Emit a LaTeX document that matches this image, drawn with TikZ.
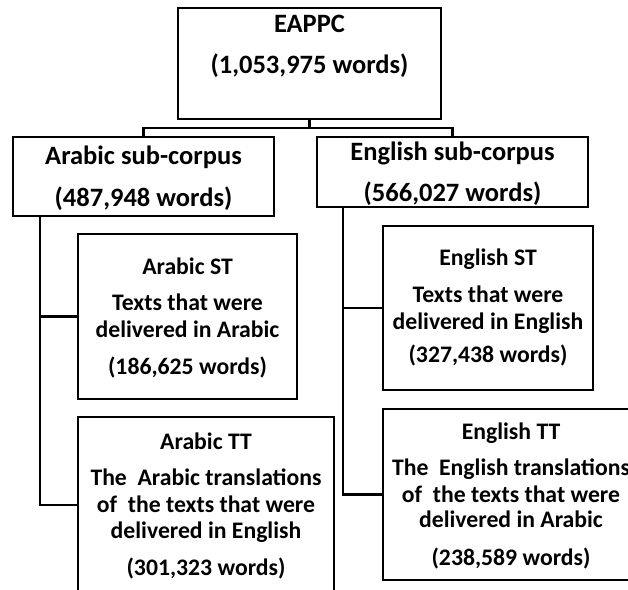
\documentclass[tikz,border=0pt]{standalone}
\usepackage{fontspec}
\setmainfont{Carlito}
\begin{document}
\begin{tikzpicture}[x=0.5pt,y=-0.5pt,
  box/.style={draw, line width=1pt, inner sep=0pt, rectangle},
  big/.style={font=\fontsize{13.25}{15}\selectfont\bfseries, anchor=base, inner sep=0pt},
  sm/.style={font=\fontsize{11.85}{14}\selectfont\bfseries, anchor=base, inner sep=0pt},
  conn/.style={line width=1.3pt}]
\useasboundingbox (0,0) rectangle (628,590);
\clip (0,0) rectangle (628,590);

% boxes
\node[box, minimum width=131.5pt, minimum height=55.5pt] (eappc) at (309.5,63.5) {};
\node[box, minimum width=130.5pt, minimum height=39.5pt] (asub) at (143.5,176.5) {};
\node[box, minimum width=135.5pt, minimum height=35pt] (esub) at (452.5,172) {};
\node[box, minimum width=109.5pt, minimum height=82.5pt] (ast) at (187.5,316.5) {};
\node[box, minimum width=105pt, minimum height=82pt] (est) at (488,308) {};
\node[box, minimum width=128pt, minimum height=88pt] (att) at (206,505) {};
\node[box, minimum width=128pt, minimum height=85.5pt] (ett) at (511,494.5) {};

% connectors
\coordinate (bar) at (309.5,128);
\draw[conn] (eappc.south) -- (bar);
\draw[conn] (asub.north) |- (bar) -| (esub.north);
\coordinate (abus) at (40,0);
\coordinate (ebus) at (343,0);
\draw[conn] (abus |- asub.south) |- (att.west);
\draw[conn] (abus |- ast.west) -- (ast.west);
\draw[conn] (ebus |- esub.south) |- (ett.west);
\draw[conn] (ebus |- est.west) -- (est.west);

% texts
\node[big] (t1) at (309.5,32.5) {EAPPC};
\node[big] (t2) at (309.5,73.5) {(1,053,975 words)};
\node[big] (t3) at (143.5,164.5) {Arabic sub-corpus};
\node[big] (t4) at (143.5,206.5) {(487,948 words)};
\node[big] (t5) at (452.5,160.5) {English sub-corpus};
\node[big] (t6) at (452.5,201.5) {(566,027 words)};

\node[sm] (t7) at (187.5,274.5) {Arabic ST};
\node[sm] (t8) at (187.5,310.5) {Texts that were};
\node[sm] (t9) at (187.5,337.5) {delivered in Arabic};
\node[sm] (t10) at (187.5,374.5) {(186,625 words)};

\node[sm] (t11) at (488,265.5) {English ST};
\node[sm] (t12) at (488,302.5) {Texts that were};
\node[sm] (t13) at (488,329.5) {delivered in English};
\node[sm] (t14) at (488,362.5) {(327,438 words)};

\node[sm] (t15) at (206,449.5) {Arabic TT};
\node[sm] (t16) at (206,485.5) {The\ \ Arabic translations};
\node[sm] (t17) at (206,512.5) {of\ \ the texts that were};
\node[sm] (t18) at (206,538.5) {delivered in English};
\node[sm] (t19) at (206,575.5) {(301,323 words)};

\node[sm] (t20) at (511,439.5) {English TT};
\node[sm] (t21) at (511,475.5) {The\ \ English translations};
\node[sm] (t22) at (511,502.5) {of\ \ the texts that were};
\node[sm] (t23) at (511,527.5) {delivered in Arabic};
\node[sm] (t24) at (511,565.5) {(238,589 words)};
\end{tikzpicture}
\end{document}
